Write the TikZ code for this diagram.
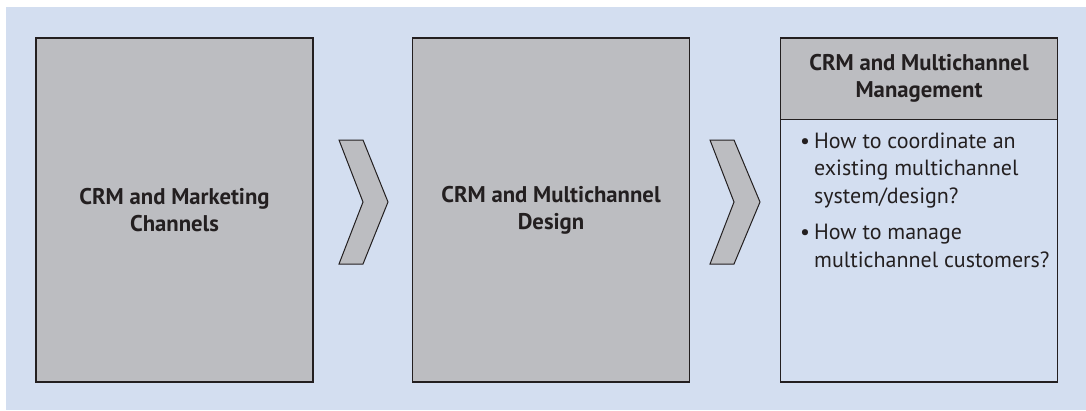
\documentclass[tikz,border=0pt]{standalone}
\usepackage{fontspec}
\setmainfont{PT Sans}
\usetikzlibrary{positioning}
\definecolor{bgblue}{HTML}{D3DEF0}
\definecolor{boxgray}{HTML}{BCBDC1}
\definecolor{edge}{HTML}{231F20}

\begin{document}
\begin{tikzpicture}[x=1pt,y=-1pt,
  every node/.style={font=\fontsize{22}{27}\selectfont,text=edge},
  stage/.style={rectangle,draw=edge,line width=1.2pt,fill=boxgray,
    minimum width=277pt,minimum height=344pt,inner sep=0pt,align=center},
  head/.style={font=\fontsize{22.7}{27}\selectfont\bfseries},
  chev/.style={draw=edge,line width=1pt,fill=boxgray,line join=miter}]
  \useasboundingbox (0,0) rectangle (1086,410);
  \fill[bgblue] (6,7) rectangle (1086,410);
  % three stages
  \node[stage,head] (mkt) at (174.5,210) {CRM and Marketing\\Channels};
  \node[stage,head] (design) at (551,210) {CRM and Multichannel\\Design};
  \node[stage,fill=bgblue] (mgmt) at (919,210) {};
  \node[stage,head,minimum height=81.5pt,anchor=north] (mgmthead) at (mgmt.north)
    {CRM and Multichannel\\Management};
  \node[anchor=north west,inner sep=0pt,align=left,
    font=\fontsize{22}{27.5}\selectfont] (qs) at (800,129)
    {\begin{tabular}{@{}l@{\hspace{4pt}}l@{}}
      \textbullet & How to coordinate an\\
      & existing multichannel\\
      & system/design?\\[9pt]
      \textbullet & How to manage\\
      & multichannel customers?
    \end{tabular}};
  % chevrons
  \draw[chev] (339,140) -- (363,140) -- (388,202) -- (363,264) -- (339,264) -- (363,202) -- cycle;
  \draw[chev] (710,140) -- (734,140) -- (760,202) -- (734,264) -- (710,264) -- (734,202) -- cycle;
\end{tikzpicture}
\end{document}
